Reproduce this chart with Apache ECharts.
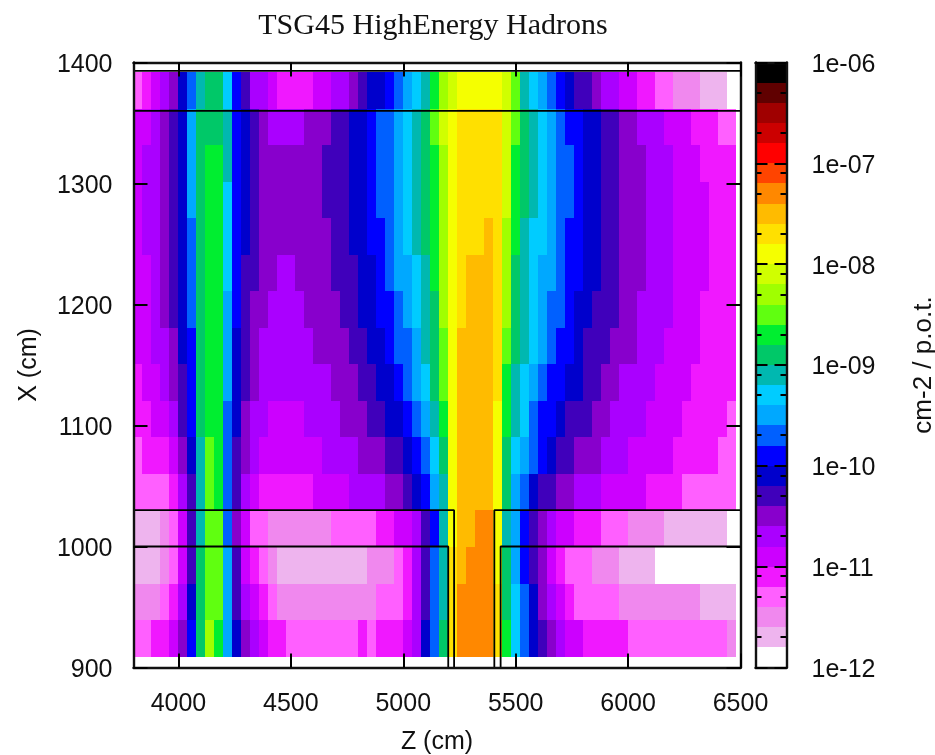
<!DOCTYPE html>
<html><head><meta charset="utf-8"><title>TSG45 HighEnergy Hadrons</title>
<style>html,body{margin:0;padding:0;background:#fff}#c{width:935px;height:755px}</style>
<script src="https://cdn.jsdelivr.net/npm/echarts@6/dist/echarts.min.js"></script>
</head><body><div id="c"></div>
<script>
// Flux band index per cell (0 = below 10^-11.8 ... 29 = top band), rows from X high to X low
var row15=[3,4,5,6,7,9,11,14,15,15,13,10,8,6,6,5,4,4,4,4,5,5,6,6,7,8,9,9,10,11,12,13,14,16,18,19,20,20,20,20,20,19,17,14,13,12,11,10,9,8,8,7,6,6,5,5,4,4,3,3,2,2,2,1,1,1,0];
var row14=[5,5,6,7,8,9,12,15,15,15,14,10,9,8,7,6,6,6,6,7,7,7,8,8,9,9,10,11,11,12,13,14,15,17,19,20,21,21,21,21,21,19,17,15,14,13,12,11,10,10,9,9,8,8,7,7,6,6,6,5,5,5,4,4,4,3,3];
var row13=[5,6,6,7,8,9,12,15,16,16,14,10,9,8,7,7,7,7,7,7,7,8,8,8,9,9,10,11,11,12,13,14,15,16,18,20,21,21,21,21,21,19,16,15,14,13,12,11,11,10,9,9,8,8,7,7,7,6,6,6,5,5,5,4,4,4,4];
var row12=[5,6,6,7,8,9,12,15,16,16,13,10,9,8,7,7,7,7,7,7,7,8,8,8,9,9,10,11,11,12,13,14,15,16,18,20,21,21,21,21,21,19,16,15,14,13,12,11,11,10,9,9,8,8,7,7,7,6,6,6,5,5,5,5,4,4,4];
var row11=[5,6,6,7,8,9,11,15,16,16,13,10,9,8,7,7,7,7,7,7,7,7,8,8,9,9,10,10,11,12,13,14,15,16,18,20,21,21,21,22,21,18,16,14,13,13,12,11,10,10,9,9,8,8,7,7,7,6,6,6,5,5,5,5,4,4,4];
var row10=[5,5,6,7,8,9,11,15,16,16,13,10,8,8,7,7,6,6,7,7,7,7,8,8,8,9,9,10,11,12,12,13,14,16,18,20,21,22,22,22,21,18,15,14,13,12,12,11,10,10,9,9,8,8,7,7,7,6,6,6,5,5,5,5,4,4,4];
var row9=[5,5,6,7,8,9,11,15,16,16,12,10,8,7,7,6,6,6,6,7,7,7,7,8,8,9,9,10,10,11,12,13,14,15,18,20,21,22,22,22,21,18,15,14,13,12,11,11,10,9,9,8,8,8,7,7,6,6,6,6,5,5,5,4,4,4,4];
var row8=[5,5,6,6,7,9,10,15,16,16,12,9,8,7,6,6,6,6,6,6,7,7,7,7,8,8,9,9,10,11,11,12,14,15,17,20,22,22,22,22,21,17,15,14,13,12,11,10,10,9,8,8,8,7,7,7,6,6,6,5,5,5,5,4,4,4,4];
var row7=[4,5,5,6,7,8,10,15,16,16,12,9,8,7,6,6,6,6,6,6,6,6,7,7,7,8,8,9,9,10,11,12,13,15,17,20,22,22,22,22,21,16,14,13,12,11,10,10,9,9,8,8,7,7,6,6,6,6,5,5,5,5,4,4,4,4,4];
var row6=[4,4,5,5,6,8,10,15,16,16,11,9,7,6,6,5,5,5,5,6,6,6,6,7,7,7,8,8,9,9,10,11,12,14,16,20,22,22,22,22,20,16,14,13,11,10,10,9,8,8,8,7,7,6,6,6,6,5,5,5,5,4,4,4,4,4,3];
var row5=[3,4,4,4,5,7,9,14,17,16,11,8,7,6,5,5,5,5,5,5,5,6,6,6,6,7,7,7,8,8,9,10,11,13,15,20,22,22,22,22,20,15,13,12,11,10,9,8,8,7,7,7,6,6,6,5,5,5,5,5,4,4,4,4,4,3,3];
var row4=[3,3,3,3,4,6,8,14,17,16,11,8,6,5,4,4,4,4,4,4,5,5,5,5,6,6,6,6,7,7,8,9,10,12,14,20,22,22,22,22,20,15,12,11,9,8,8,7,7,6,6,6,5,5,5,5,5,4,4,4,4,3,3,3,3,3,3];
var row3=[1,1,1,2,3,5,8,14,17,17,11,7,5,3,3,2,2,2,2,2,2,2,3,3,3,3,3,4,4,5,5,6,8,10,14,20,22,22,23,23,20,14,12,10,8,7,6,5,5,4,4,4,3,3,3,2,2,2,2,1,1,1,1,1,1,1,0];
var row2=[1,1,1,2,3,5,8,15,17,17,12,8,5,4,3,2,1,1,1,1,1,1,1,1,1,1,2,2,2,3,4,6,8,11,14,21,22,23,23,23,20,15,12,10,8,7,5,4,3,3,3,2,2,2,1,1,1,1,0,0,0,0,0,0,0,0,0];
var row1=[2,2,2,3,4,6,9,15,17,17,12,8,6,5,4,3,2,2,2,2,2,2,2,2,2,2,2,3,3,3,4,6,8,11,14,21,23,23,23,23,21,15,13,11,9,7,6,5,4,3,3,3,3,3,2,2,2,2,2,2,2,2,2,1,1,1,1];
var row0=[3,3,4,4,5,7,10,15,18,16,12,9,7,6,5,4,4,3,3,3,3,3,3,3,3,4,3,4,4,4,5,6,9,11,15,21,23,23,23,23,21,16,13,11,9,8,7,6,5,5,4,4,4,4,4,3,3,3,3,3,3,3,3,3,3,3,2];
var rows=[row0,row1,row2,row3,row4,row5,row6,row7,row8,row9,row10,row11,row12,row13,row14,row15];

var zTicks=[4000,4500,5000,5500,6000,6500];
var xTicks=[900,1000,1100,1200,1300,1400];
var cbExponents=[-12,-11,-10,-9,-8,-7,-6];
var cbMinorMultipliers=[2,5,8];
var palette=['#ffffff','#eeb4ee','#f088ee','#ff5fff','#f018ff','#cc00ff','#aa00ff','#8800cc','#4000bb','#0000cc','#0000ff','#0060ff','#00a8ff','#00ccff','#00b8b0','#00c868','#00ee30','#60ff10','#a0ff00','#d0ff00','#f5ff00','#ffe000','#ffbb00','#ff8800','#ff4400','#ff0000','#cc0000','#a00000','#600000','#000000'];

// Detector outlines in (Z, X)
var outlineTop=[[3800,1393],[6500,1393]];
var outlineUpper=[[3800,1360],[6500,1360]];
var outlineLeftOuter=[[3800,1030],[5226,1030],[5226,900]];
var outlineLeftInner=[[3800,1000],[5200,1000],[5200,900]];
var outlineRightOuter=[[5405,900],[5405,1030],[6500,1030]];
var outlineRightInner=[[5433,900],[5433,1000],[6500,1000]];
var outlines=[outlineTop,outlineUpper,outlineLeftOuter,outlineLeftInner,outlineRightOuter,outlineRightInner];

var zStart=3800,zStep=40,xStart=909,xStep=30.19;
var cells=[];
rows.forEach(function(r,j){r.forEach(function(lv,i){
  cells.push([zStart+i*zStep,zStart+(i+1)*zStep,xStart+j*xStep,xStart+(j+1)*xStep,lv]);
});});
var cbCells=palette.map(function(c,i){return [0,1,-12+i*0.2,-12+(i+1)*0.2,i];});
var cbMinor=[];
cbExponents.slice(0,-1).forEach(function(e){cbMinorMultipliers.forEach(function(m){cbMinor.push(e+Math.log10(m));});});

function rectItem(params,api){
  var a=api.coord([api.value(0),api.value(3)]),b=api.coord([api.value(1),api.value(2)]);
  var x0=Math.round(a[0]),x1=Math.round(b[0]),y0=Math.round(a[1]),y1=Math.round(b[1]);
  return {type:'rect',shape:{x:x0,y:y0,width:x1-x0,height:y1-y0},style:{fill:palette[api.value(4)]}};
}
function minorItem(params,api){
  var l=api.coord([0,api.value(0)]),r=api.coord([1,api.value(0)]);
  var y=Math.round(l[1]);
  return {type:'group',children:[
    {type:'line',shape:{x1:l[0],y1:y,x2:l[0]+6,y2:y},style:{stroke:'#000',lineWidth:2}},
    {type:'line',shape:{x1:r[0]-6,y1:y,x2:r[0],y2:y},style:{stroke:'#000',lineWidth:2}}
  ]};
}
var FS='"Liberation Sans",Arial,sans-serif',black='#000';
var lineCfg={show:true,onZero:false,lineStyle:{color:'#111',width:2.4}};
function tickCfg(len,vals){var t={show:true,inside:true,length:len,lineStyle:{color:black,width:2}};if(vals)t.customValues=vals;return t;}
function plain(v){return String(v);}
var labelCfg={color:'#111',fontSize:25,fontFamily:FS,margin:21,formatter:plain};
var richNudge={v:{color:'#111',fontSize:25,fontFamily:FS,padding:[5,0,0,0]}};

var opt={
  animation:false,backgroundColor:'#fff',
  title:{text:'TSG45 HighEnergy Hadrons',left:428,top:6,textAlign:'center',
    textStyle:{fontFamily:'"Liberation Serif","Times New Roman",serif',fontWeight:'normal',fontSize:30,color:'#111'}},
  grid:[{left:133.5,top:62.5,width:607,height:605,outerBoundsMode:'none',containLabel:false},{left:755.5,top:62.5,width:31,height:605,outerBoundsMode:'none',containLabel:false}],
  xAxis:[
    {gridIndex:0,type:'value',min:3800,max:6500,position:'bottom',z:10,name:'Z (cm)',nameLocation:'middle',nameGap:62,
     nameTextStyle:{fontSize:25,fontFamily:FS,color:'#111'},axisLine:lineCfg,axisTick:tickCfg(14,zTicks),
     axisLabel:Object.assign({},labelCfg,{customValues:zTicks,margin:24}),splitLine:{show:false}},
    {gridIndex:0,type:'value',min:3800,max:6500,position:'top',z:10,axisLine:lineCfg,axisTick:tickCfg(14,zTicks),
     axisLabel:{show:false},splitLine:{show:false}},
    {gridIndex:1,type:'value',min:0,max:1,position:'bottom',z:10,axisLine:lineCfg,axisTick:{show:false},axisLabel:{show:false},splitLine:{show:false}},
    {gridIndex:1,type:'value',min:0,max:1,position:'top',z:10,axisLine:lineCfg,axisTick:{show:false},axisLabel:{show:false},splitLine:{show:false}}
  ],
  yAxis:[
    {gridIndex:0,type:'value',min:900,max:1400,interval:100,position:'left',z:10,name:'X (cm)',nameLocation:'middle',nameGap:92,
     nameTextStyle:{fontSize:25,fontFamily:FS,color:'#111'},axisLine:lineCfg,axisTick:tickCfg(14,xTicks),
     axisLabel:Object.assign({},labelCfg,{customValues:xTicks,rich:richNudge,formatter:function(v){return '{v|'+v+'}';}}),splitLine:{show:false}},
    {gridIndex:0,type:'value',min:900,max:1400,interval:100,position:'right',z:10,axisLine:lineCfg,axisTick:tickCfg(14,xTicks),
     axisLabel:{show:false},splitLine:{show:false}},
    {gridIndex:1,type:'value',min:-12,max:-6,interval:1,position:'left',z:10,axisLine:lineCfg,axisTick:tickCfg(12,cbExponents),axisLabel:{show:false},splitLine:{show:false}},
    {gridIndex:1,type:'value',min:-12,max:-6,interval:1,position:'right',z:10,name:'cm-2 / p.o.t.',nameLocation:'middle',nameGap:124,
     nameTextStyle:{fontSize:26,fontFamily:FS,color:'#111'},axisLine:lineCfg,axisTick:tickCfg(12,cbExponents),
     axisLabel:Object.assign({},labelCfg,{customValues:cbExponents,margin:25,rich:richNudge,formatter:function(v){var a=Math.abs(v);return '{v|1e-'+(a<10?'0':'')+a+'}';}}),splitLine:{show:false}}
  ],
  series:[
    {type:'custom',name:'flux',xAxisIndex:0,yAxisIndex:0,data:cells,encode:{x:[0,1],y:[2,3]},renderItem:rectItem,progressive:0,silent:true,clip:true},
    {type:'custom',name:'scale',xAxisIndex:2,yAxisIndex:2,data:cbCells,encode:{x:[0,1],y:[2,3]},renderItem:rectItem,progressive:0,silent:true},
    {type:'custom',name:'scaleTicks',xAxisIndex:2,yAxisIndex:2,data:cbMinor.map(function(v){return [v];}),encode:{y:0},renderItem:minorItem,silent:true,z:5}
  ].concat(outlines.map(function(o){
    return {type:'line',xAxisIndex:0,yAxisIndex:0,data:o,showSymbol:false,silent:true,z:6,lineStyle:{color:black,width:1.8}};
  }))
};
var chart=echarts.init(document.getElementById('c'),null,{renderer:'canvas',width:935,height:755});
chart.setOption(opt);
</script></body></html>
